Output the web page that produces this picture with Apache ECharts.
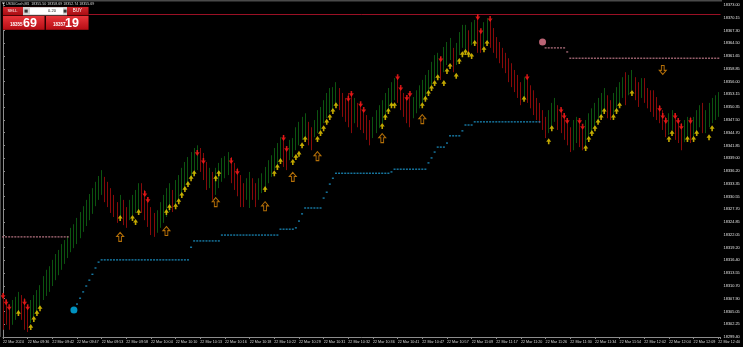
<!DOCTYPE html>
<html><head><meta charset="utf-8">
<script src="https://cdn.jsdelivr.net/npm/echarts@6/dist/echarts.min.js"></script>
<style>html,body{margin:0;padding:0;background:#000;}#c{width:743px;height:347px;}</style>
</head><body><div id="c"></div>
<script>
const xLabels = ["22 Mar 2024","22 Mar 09:36","22 Mar 09:42","22 Mar 09:47","22 Mar 09:53","22 Mar 09:58","22 Mar 10:04","22 Mar 10:10","22 Mar 10:13","22 Mar 10:16","22 Mar 10:18","22 Mar 10:22","22 Mar 10:29","22 Mar 10:31","22 Mar 10:32","22 Mar 10:36","22 Mar 10:41","22 Mar 10:47","22 Mar 10:57","22 Mar 11:09","22 Mar 11:17","22 Mar 11:20","22 Mar 11:26","22 Mar 11:30","22 Mar 11:34","22 Mar 11:54","22 Mar 12:02","22 Mar 12:04","22 Mar 12:09","22 Mar 12:40"];
const yTicks = ["18299.40","18302.25","18305.05","18307.90","18310.70","18313.55","18316.40","18319.20","18322.05","18324.85","18327.70","18330.55","18333.35","18336.20","18339.00","18341.85","18344.70","18347.50","18350.35","18353.15","18356.00","18358.85","18361.65","18364.50","18367.30","18370.15","18373.00"];

const barHigh = [
18309.1,18307.6,18306.0,18307.6,18308.3,18309.4,18308.7,18308.0,18306.5,18307.6,
18308.7,18309.8,18310.9,18312.9,18314.3,18315.1,18316.5,18317.8,18318.7,18320.0,
18320.9,18321.8,18323.6,18324.4,18325.8,18327.1,18328.4,18329.8,18331.1,18332.4,
18333.8,18335.1,18336.4,18334.9,18333.8,18332.4,18330.9,18329.3,18330.9,18329.8,
18328.2,18329.8,18330.9,18332.0,18333.5,18333.5,18332.0,18330.4,18328.2,18326.9,
18327.5,18329.3,18330.9,18332.4,18333.5,18332.0,18334.2,18335.3,18336.9,18338.2,
18339.3,18340.4,18341.3,18341.9,18341.3,18340.2,18338.2,18336.9,18336.0,18336.9,
18338.0,18339.1,18339.5,18340.4,18339.3,18338.0,18336.9,18335.3,18333.5,18334.6,
18336.0,18334.6,18333.5,18334.6,18335.7,18337.1,18338.6,18339.7,18341.3,18342.4,
18343.7,18344.2,18341.5,18343.1,18343.5,18345.9,18347.1,18348.2,18349.0,18347.1,
18345.9,18347.5,18349.7,18350.4,18351.9,18353.5,18354.6,18354.8,18355.9,18354.6,
18353.5,18352.4,18353.5,18353.5,18352.4,18351.3,18351.3,18349.7,18348.6,18347.5,
18348.2,18349.7,18350.8,18351.9,18353.5,18354.6,18355.9,18356.8,18357.0,18354.8,
18353.5,18352.6,18353.5,18352.6,18354.1,18355.2,18356.4,18357.5,18358.6,18360.4,
18361.9,18362.4,18361.5,18363.7,18364.8,18365.7,18363.5,18364.6,18367.0,18368.6,
18368.6,18367.4,18369.2,18369.7,18370.8,18367.4,18369.2,18370.1,18369.7,18367.9,
18365.9,18364.8,18363.5,18362.4,18361.2,18360.1,18358.6,18357.5,18355.9,18357.0,
18357.0,18355.2,18354.1,18352.4,18351.3,18349.7,18348.2,18349.7,18351.3,18352.4,
18350.8,18350.1,18349.0,18347.5,18345.9,18347.5,18348.2,18347.5,18345.9,18347.5,
18349.0,18350.1,18351.3,18352.4,18353.5,18354.6,18353.0,18351.9,18353.5,18354.8,
18355.9,18357.0,18358.1,18357.5,18358.6,18357.0,18355.9,18356.8,18356.8,18354.6,
18354.1,18354.1,18352.6,18350.8,18349.7,18348.2,18349.0,18349.7,18349.0,18347.5,
18346.8,18347.5,18348.2,18348.2,18348.2,18349.7,18350.8,18351.3,18349.7,18351.3,
18352.4,18353.0,18353.7];

const barLow = [
18301.0,18302.1,18301.0,18302.1,18303.2,18304.7,18303.2,18301.0,18300.5,18302.5,
18303.8,18304.7,18305.8,18307.6,18308.5,18309.4,18310.7,18312.0,18313.1,18314.3,
18315.6,18316.9,18318.2,18319.1,18320.0,18321.3,18322.7,18324.0,18325.3,18326.7,
18328.4,18329.8,18330.9,18329.3,18328.2,18326.9,18326.0,18324.7,18325.8,18324.2,
18323.6,18325.3,18326.4,18326.9,18327.5,18326.9,18325.3,18323.8,18322.0,18321.6,
18322.5,18323.6,18324.7,18326.0,18327.1,18327.1,18328.7,18329.8,18330.9,18332.0,
18333.1,18334.6,18335.3,18336.4,18336.0,18334.2,18332.0,18332.4,18329.8,18330.9,
18332.4,18333.8,18334.6,18335.3,18333.5,18332.0,18330.6,18328.2,18328.2,18329.8,
18328.0,18329.8,18328.2,18329.8,18331.3,18332.0,18333.5,18334.9,18336.4,18337.1,
18338.6,18337.1,18336.4,18338.6,18339.3,18340.8,18341.9,18343.1,18343.7,18341.9,
18340.8,18343.7,18344.6,18345.3,18346.8,18347.9,18349.0,18349.7,18350.8,18349.7,
18348.2,18347.1,18345.9,18344.6,18346.8,18345.9,18345.3,18344.6,18343.1,18341.9,
18343.5,18344.6,18345.7,18346.8,18347.9,18349.3,18350.4,18351.9,18351.3,18349.7,
18348.2,18346.8,18345.9,18347.9,18349.0,18350.1,18351.3,18352.4,18353.5,18355.2,
18356.4,18357.5,18356.4,18358.1,18359.7,18360.8,18358.1,18359.7,18361.9,18363.5,
18363.0,18362.4,18364.1,18364.8,18362.4,18362.4,18363.7,18364.8,18363.5,18362.4,
18361.2,18360.1,18359.0,18357.9,18355.9,18354.8,18353.7,18352.4,18350.8,18352.6,
18351.3,18350.1,18348.6,18347.5,18346.8,18345.3,18343.5,18344.6,18345.9,18347.1,
18345.3,18344.6,18343.1,18341.9,18340.4,18340.8,18342.4,18341.5,18340.8,18341.9,
18343.5,18344.6,18345.9,18347.1,18348.2,18349.3,18347.9,18347.5,18348.6,18349.7,
18351.3,18352.4,18350.8,18353.0,18354.1,18351.9,18350.4,18352.4,18351.3,18350.1,
18349.3,18348.2,18347.5,18346.8,18345.3,18343.7,18344.2,18345.3,18343.1,18342.4,
18340.8,18342.6,18343.5,18342.4,18343.7,18344.6,18345.9,18344.6,18344.6,18345.9,
18346.8,18347.5,18348.2];

const barUp = [
0,0,0,1,1,1,0,0,0,1,
1,1,1,1,1,1,1,1,1,1,
1,1,1,1,1,1,1,1,1,1,
1,1,1,0,0,0,0,0,1,0,
0,1,1,1,1,0,0,0,0,0,
1,1,1,1,1,0,1,1,1,1,
1,1,1,1,0,0,0,1,0,1,
1,1,1,1,0,0,0,0,0,1,
1,0,0,1,1,1,1,1,1,1,
1,0,0,1,1,1,1,1,1,0,
0,1,1,1,1,1,1,1,1,0,
0,0,0,0,1,0,0,0,0,0,
1,1,1,1,1,1,1,1,0,0,
0,0,0,1,1,1,1,1,1,1,
1,1,0,1,1,1,0,1,1,1,
1,0,1,1,0,0,1,1,0,0,
0,0,0,0,0,0,0,0,0,1,
0,0,0,0,0,0,0,1,1,1,
0,0,0,0,0,1,1,0,0,1,
1,1,1,1,1,1,0,0,1,1,
1,1,0,1,1,0,0,1,0,0,
0,0,0,0,0,0,1,1,0,0,
0,1,1,0,1,1,1,0,1,1,
1,1,1];

const redArrows = [[0,18308.5],[1,18307.1],[2,18306.0],[7,18307.1],[8,18306.0],[46,18331.1],[47,18329.8],[63,18340.2],[65,18338.4],[74,18338.4],[76,18336.0],[91,18343.5],[92,18341.1],[112,18352.2],[113,18353.3],[116,18351.0],[117,18349.7],[128,18357.0],[129,18354.6],[131,18352.4],[132,18353.3],[142,18361.0],[154,18370.3],[155,18367.2],[158,18369.9],[170,18357.0],[181,18349.7],[182,18348.4],[183,18347.3],[187,18347.3],[188,18346.0],[213,18350.0],[214,18348.4],[215,18347.3],[218,18348.4],[219,18347.3],[220,18346.0],[223,18347.3]];
const yellowArrows = [[5,18304.7],[9,18301.6],[10,18303.4],[11,18304.7],[12,18305.8],[38,18325.8],[42,18325.8],[43,18324.9],[44,18327.1],[53,18327.1],[54,18328.2],[56,18328.4],[57,18329.5],[58,18330.9],[59,18332.2],[60,18333.3],[61,18334.6],[62,18335.7],[69,18334.6],[70,18335.7],[85,18332.2],[88,18335.7],[89,18337.1],[90,18338.4],[94,18338.2],[95,18339.3],[96,18340.0],[97,18341.9],[98,18343.3],[102,18343.3],[103,18344.6],[104,18345.7],[105,18347.1],[106,18348.2],[107,18349.5],[108,18350.8],[123,18346.2],[124,18348.2],[125,18349.5],[126,18350.8],[127,18350.8],[136,18350.8],[137,18352.2],[138,18353.5],[139,18354.6],[140,18355.7],[141,18357.0],[143,18355.7],[144,18358.4],[145,18359.5],[147,18357.3],[148,18360.6],[149,18362.1],[150,18362.6],[151,18362.1],[152,18361.7],[153,18364.6],[156,18363.2],[157,18364.6],[169,18352.2],[177,18342.8],[178,18345.7],[189,18341.3],[190,18343.3],[191,18344.6],[192,18345.7],[193,18347.1],[194,18348.2],[195,18349.5],[198,18348.2],[199,18349.5],[200,18350.8],[204,18353.5],[216,18343.3],[217,18344.6],[222,18343.3],[224,18343.3],[225,18344.6],[229,18343.7],[230,18345.7]];
const orangeUpArrows = [[38,18321.6],[53,18322.9],[69,18329.3],[85,18328.4],[94,18334.9],[102,18339.5],[123,18343.5],[136,18347.7]];
const orangeDownArrows = [[214,18358.6]];

const supportStart = 24;
const supportValues = [18306.7,18308.0,18309.4,18310.7,18312.0,18313.3,18314.7,18316.0,
18316.5,18316.5,18316.5,18316.5,18316.5,18316.5,18316.5,18316.5,18316.5,18316.5,18316.5,18316.5,18316.5,18316.5,18316.5,18316.5,18316.5,18316.5,18316.5,18316.5,18316.5,18316.5,18316.5,18316.5,18316.5,18316.5,18316.5,18316.5,18316.5,
18319.3,
18320.7,18320.7,18320.7,18320.7,18320.7,18320.7,18320.7,18320.7,18320.7,
18322.0,18322.0,18322.0,18322.0,18322.0,18322.0,18322.0,18322.0,18322.0,18322.0,18322.0,18322.0,18322.0,18322.0,18322.0,18322.0,18322.0,18322.0,18322.0,
18323.3,18323.3,18323.3,18323.3,18323.3,
18323.6,18325.1,18326.7,18328.0,
18328.0,18328.0,18328.0,18328.0,18328.0,
18330.2,18331.5,18333.3,18334.6,
18335.7,18335.7,18335.7,18335.7,18335.7,18335.7,18335.7,18335.7,18335.7,18335.7,18335.7,18335.7,18335.7,18335.7,18335.7,18335.7,18335.7,18335.7,
18336.0,
18336.6,18336.6,18336.6,18336.6,18336.6,18336.6,18336.6,18336.6,18336.6,18336.6,18336.6,
18338.0,18339.1,18340.4,
18341.5,18341.5,18341.5,
18342.4,
18344.0,18344.0,18344.0,18344.0,
18345.1,
18346.4,18346.4,18346.4,
18347.1,18347.1,18347.1,18347.1,18347.1,18347.1,18347.1,18347.1,18347.1,18347.1,18347.1,18347.1,18347.1,18347.1,18347.1,18347.1,18347.1,18347.1,18347.1,18347.1,18347.1,18347.1];
const resistStartA = 0;
const resistValuesA = [18321.6,18321.6,18321.6,18321.6,18321.6,18321.6,18321.6,18321.6,18321.6,18321.6,18321.6,18321.6,18321.6,18321.6,18321.6,18321.6,18321.6,18321.6,18321.6,18321.6,18321.6,18321.6];
const resistStartB = 176;
const resistValuesB = [18363.5,18363.5,18363.5,18363.5,18363.5,18363.5,18363.5,18362.6,
18361.2,18361.2,18361.2,18361.2,18361.2,18361.2,18361.2,18361.2,18361.2,18361.2,18361.2,18361.2,18361.2,18361.2,18361.2,18361.2,18361.2,18361.2,18361.2,18361.2,18361.2,18361.2,18361.2,18361.2,18361.2,18361.2,18361.2,18361.2,18361.2,18361.2,18361.2,18361.2,18361.2,18361.2,18361.2,18361.2,18361.2,18361.2,18361.2,18361.2,18361.2,18361.2,18361.2,18361.2,18361.2,18361.2,18361.2,18361.2,18361.2];
const supportFlip = [[23,18305.4]];
const resistFlip = [[175,18364.8]];
const topLinePrice = 18370.9;
const lastPrice = 18355.69;

const Y_MIN = 18299.4;
const Y_INT = 18299.4 / 6464;
const Y_MAX = Y_MIN + 26 * Y_INT;
const UP = '#0c5410', DN = '#870a0a';
const FONT = 'Liberation Sans, Arial, sans-serif';

const chart = echarts.init(document.getElementById('c'), null, {renderer:'canvas'});

const barData = barHigh.map((h, i) => [i, h, barLow[i], barUp[i]]);
const supportDots = supportValues.map((v, k) => [supportStart + k, v]);
const resistDots = resistValuesA.map((v, k) => [resistStartA + k, v]).concat(resistValuesB.map((v, k) => [resistStartB + k, v]));

const upPath = 'path://M5,0L10,6L6.6,6L6.6,10L3.4,10L3.4,6L0,6Z';
const dnPath = 'path://M3.4,0L6.6,0L6.6,4L10,4L5,10L0,4L3.4,4Z';
const bigUp = 'path://M5,0L10,5.5L7,5.5L7,12L3,12L3,5.5L0,5.5Z';
const bigDn = 'path://M3,0L7,0L7,6.5L10,6.5L5,12L0,6.5L3,6.5Z';

const redGrad = {type:'linear',x:0,y:0,x2:0,y2:1,colorStops:[{offset:0,color:'#e8343a'},{offset:1,color:'#b50d14'}]};
const btnGrad = {type:'linear',x:0,y:0,x2:0,y2:1,colorStops:[{offset:0,color:'#d0262c'},{offset:1,color:'#a80c12'}]};

function txt(x, y, s, size, fill, weight, align) {
  return {type:'text', x:x, y:y, z:100, style:{text:s, fill:fill, fontSize:size, fontFamily:FONT, fontWeight:weight||'normal', align:align||'left', textAlign:align||'left', verticalAlign:'middle', textVerticalAlign:'middle'}};
}

const option = {
  backgroundColor:'#000',
  animation:false,
  grid:{left:1, right:20.5, top:5, bottom:10},
  xAxis:{
    type:'value', min:0, max:232.74, interval:8,
    axisLine:{show:true, onZero:false, lineStyle:{color:'#8c8c8c', width:1}},
    axisTick:{show:true, length:2, lineStyle:{color:'#8c8c8c'}},
    splitLine:{show:false},
    axisLabel:{show:true, fontSize:3.7, color:'#dadada', fontFamily:FONT, margin:2.5, align:'left',
      formatter: v => (v % 8 === 0 && xLabels[v/8]) ? xLabels[v/8] : ''}
  },
  yAxis:{
    type:'value', position:'right', min:Y_MIN, max:Y_MAX, interval:Y_INT,
    axisLine:{show:true, lineStyle:{color:'#8c8c8c', width:1}},
    axisTick:{show:true, length:2, lineStyle:{color:'#8c8c8c'}},
    splitLine:{show:false},
    axisLabel:{show:true, fontSize:3.9, color:'#e2e2e2', fontFamily:FONT, margin:3,
      formatter: v => { const k = Math.round((v - Y_MIN) / Y_INT); return Math.abs(v - (Y_MIN + k*Y_INT)) < 0.05 && yTicks[k] ? yTicks[k] : ''; }}
  },
  series:[
    {type:'custom', z:2, data:barData, clip:false,
      renderItem:(params, api) => {
        const i = api.value(0);
        const hi = api.coord([i, api.value(1)]);
        const lo = api.coord([i, api.value(2)]);
        const x = Math.floor(hi[0]) + 0.5;
        return {type:'line', shape:{x1:x, y1:hi[1], x2:x, y2:lo[1]}, style:{stroke: api.value(3) ? UP : DN, lineWidth:1}};
      }},
    {type:'scatter', z:3, data:supportDots, symbol:'rect', symbolSize:[2,1.4], itemStyle:{color:'#1d9ad0'}, silent:true},
    {type:'scatter', z:3, data:resistDots, symbol:'rect', symbolSize:[2,1.4], itemStyle:{color:'#c87e8e'}, silent:true},
    {type:'scatter', z:4, data:supportFlip, symbol:'circle', symbolSize:7, itemStyle:{color:'#00b6f0'}, silent:true},
    {type:'scatter', z:4, data:resistFlip, symbol:'circle', symbolSize:7, itemStyle:{color:'#ea7d92'}, silent:true,
      markLine:{silent:true, symbol:'none', animation:false,
        data:[
          {yAxis:topLinePrice, lineStyle:{color:'#9a1024', width:1, type:'solid'}, label:{show:false}},
          {yAxis:lastPrice, lineStyle:{opacity:0}, label:{show:true, position:'end', distance:0.5, formatter: lastPrice.toFixed(2), backgroundColor:'#ffffff', color:'#000', fontSize:3.9, fontFamily:FONT, padding:[1,2]}}
        ]}},
    {type:'scatter', z:5, data:redArrows, symbol:dnPath, symbolSize:[5,6], itemStyle:{color:'#ff1a1a'}, silent:true},
    {type:'scatter', z:5, data:yellowArrows, symbol:upPath, symbolSize:[5,6], itemStyle:{color:'#f2d200'}, silent:true},
    {type:'scatter', z:5, data:orangeUpArrows, symbol:bigUp, symbolSize:[7,9], itemStyle:{color:'#120800', borderColor:'#e08c0a', borderWidth:1}, silent:true},
    {type:'scatter', z:5, data:orangeDownArrows, symbol:bigDn, symbolSize:[7,9], itemStyle:{color:'#120800', borderColor:'#e08c0a', borderWidth:1}, silent:true}
  ],
  graphic:[
    {type:'rect', z:90, shape:{x:0, y:0, width:722, height:1.5}, style:{fill:'#4a4a4a'}},
    {type:'rect', z:90, shape:{x:0, y:0, width:1, height:337}, style:{fill:'#4a4a4a'}},
    {type:'polygon', z:100, shape:{points:[[2,2.5],[5,2.5],[3.5,4.8]]}, style:{fill:'#dddddd'}},
    txt(6, 3.8, 'US30Cash,M1  18355.50 18358.69 18352.74 18355.69', 3.6, '#dcdcdc'),
    {type:'rect', z:95, shape:{x:2.5, y:6.5, width:86, height:23.5}, style:{fill:'#2a0000'}},
    {type:'rect', z:96, shape:{x:3, y:7, width:20, height:8.3}, style:{fill:btnGrad}},
    {type:'rect', z:96, shape:{x:23, y:7, width:44, height:8.3}, style:{fill:'#d4d4d4'}},
    {type:'rect', z:97, shape:{x:30, y:8, width:33, height:6.3}, style:{fill:'#ffffff'}},
    {type:'rect', z:97, shape:{x:24.5, y:9.6, width:3.2, height:3}, style:{fill:'#333'}},
    {type:'rect', z:97, shape:{x:63.6, y:9.6, width:3, height:3}, style:{fill:'#333'}},
    txt(52, 11.2, '0.20', 4, '#111', 'normal', 'center'),
    {type:'rect', z:96, shape:{x:67, y:7, width:21.5, height:8.3}, style:{fill:btnGrad}},
    txt(12.5, 11.2, 'SELL', 4, '#ffffff', 'normal', 'center'),
    txt(77.5, 11.2, 'BUY', 4.5, '#ffffff', 'normal', 'center'),
    {type:'rect', z:96, shape:{x:3, y:16, width:41.5, height:13.8}, style:{fill:redGrad}},
    {type:'rect', z:96, shape:{x:46, y:16, width:42.5, height:13.8}, style:{fill:redGrad}},
    txt(10, 24.5, '18355', 4.5, '#ffffff', 'bold'),
    txt(23, 23.3, '69', 12.5, '#ffffff', 'bold'),
    txt(53, 24.5, '18357', 4.5, '#ffffff', 'bold'),
    txt(65, 23.3, '19', 12.5, '#ffffff', 'bold')
  ]
};
chart.setOption(option);
</script>
</body></html>
